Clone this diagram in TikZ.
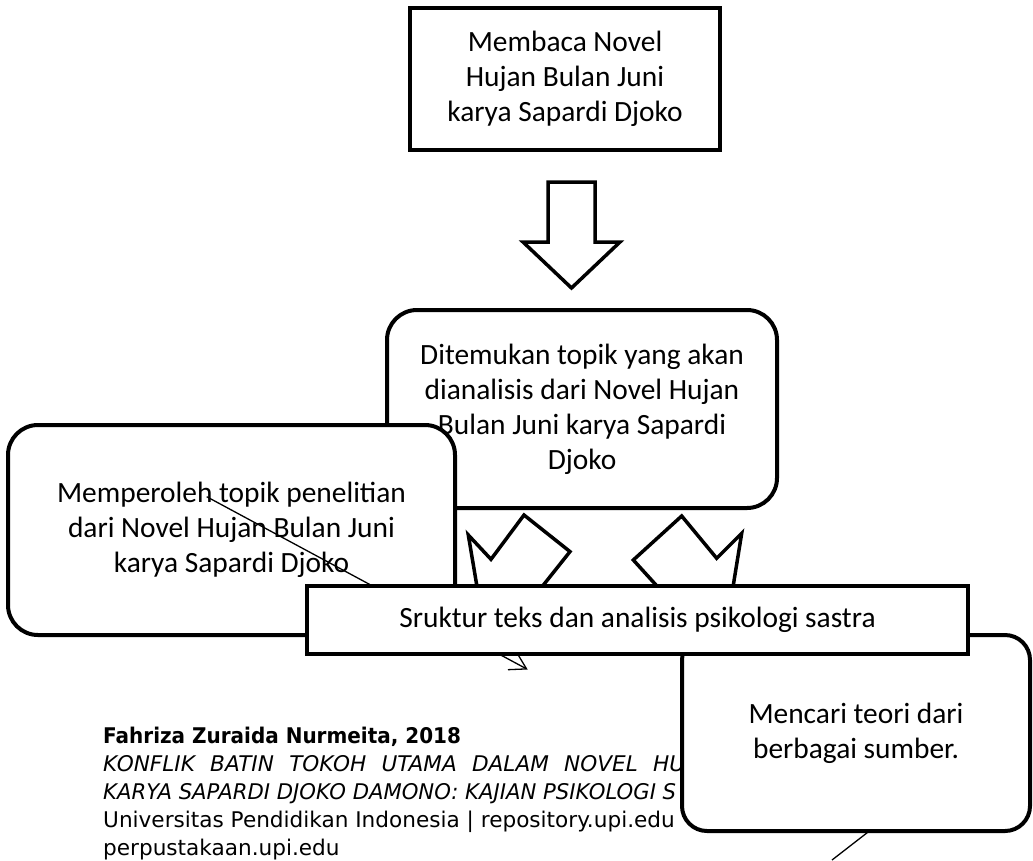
\documentclass[tikz,border=0pt]{standalone}
\usepackage{fontspec}
\setmainfont{Carlito}
\newfontfamily\footfont{DejaVu Sans}
\usetikzlibrary{arrows.meta}
\newcommand\boxfont{\fontsize{29.4}{35}\selectfont}
\newcommand\ftfont{\footfont\fontsize{21.6}{28}\selectfont}
\tikzset{
  sq/.style={draw, line width=4pt, fill=white, rectangle, inner sep=0pt, align=center, font=\boxfont},
  rr/.style={sq, rounded corners=30pt},
  blockarrow/.style={draw, line width=3.5pt, fill=white, line join=miter},
  thinline/.style={draw, line width=1.3pt},
  thinarrow/.style={thinline, -{Straight Barb[length=16pt,width=19pt]}},
  foot/.style={anchor=base west, inner sep=0pt, font=\ftfont},
}
\begin{document}
\begin{tikzpicture}[x=1pt,y=-1pt]
\useasboundingbox (0,0) rectangle (1033,860);
% top box
\node[sq, minimum width=310pt, minimum height=142pt] (top) at (565,79)
  {Membaca Novel\\Hujan Bulan Juni\\karya Sapardi Djoko};
% down block arrow
\draw[blockarrow] (548,182) -- (595,182) -- (595,242) -- (620,242) -- (571.5,288) -- (523,242) -- (548,242) -- cycle;
% middle box
\node[rr, minimum width=390pt, minimum height=198pt] (mid) at (582,409)
  {Ditemukan topik yang akan\\dianalisis dari Novel Hujan\\Bulan Juni karya Sapardi\\Djoko};
% left box
\node[rr, minimum width=447pt, minimum height=210pt] (left) at (231.5,530)
  {Memperoleh topik penelitian\\dari Novel Hujan Bulan Juni\\karya Sapardi Djoko};
% thin arrow line
\coordinate (la1) at (206.7,496.7);
\coordinate (la2) at (527.7,669.5);
\draw[thinarrow] (la1) -- (la2);
% left diagonal block arrow
\draw[blockarrow] (524,515) -- (570,551.6) -- (535.6,594.8) -- (561.4,615.4) -- (481.8,615.1) -- (468.3,535) -- (491,559.3) -- cycle;
% right diagonal block arrow
\draw[blockarrow] (681.7,516) -- (716.7,558.3) -- (741.7,533.3) -- (728.3,616) -- (644.1,624.4) -- (670.2,600.6) -- (633.3,560) -- cycle;
% footer
\node[foot] (f1) at (103,743) {\scalebox{0.925}[1]{\bfseries Fahriza Zuraida Nurmeita, 2018}};
\node[foot] (f2) at (103,771) {\makebox[582pt][s]{\itshape KONFLIK BATIN TOKOH UTAMA DALAM NOVEL HU}};
\node[foot] (f3) at (103,799) {\scalebox{0.98}[1]{\itshape KARYA SAPARDI DJOKO DAMONO: KAJIAN PSIKOLOGI S}};
\node[foot] (f4) at (103,827) {Universitas Pendidikan Indonesia | repository.upi.edu};
\node[foot] (f5) at (103,855) {perpustakaan.upi.edu};
% bottom right thin line
\coordinate (lb1) at (890,815);
\coordinate (lb2) at (832,860);
\draw[thinline] (lb1) -- (lb2);
% right box
\node[sq, rounded corners=25pt, minimum width=348pt, minimum height=196pt] (right) at (856,733)
  {Mencari teori dari\\berbagai sumber.};
% banner
\node[sq, minimum width=661pt, minimum height=68pt] (banner) at (637.5,620)
  {Sruktur teks dan analisis psikologi sastra};
\end{tikzpicture}
\end{document}
